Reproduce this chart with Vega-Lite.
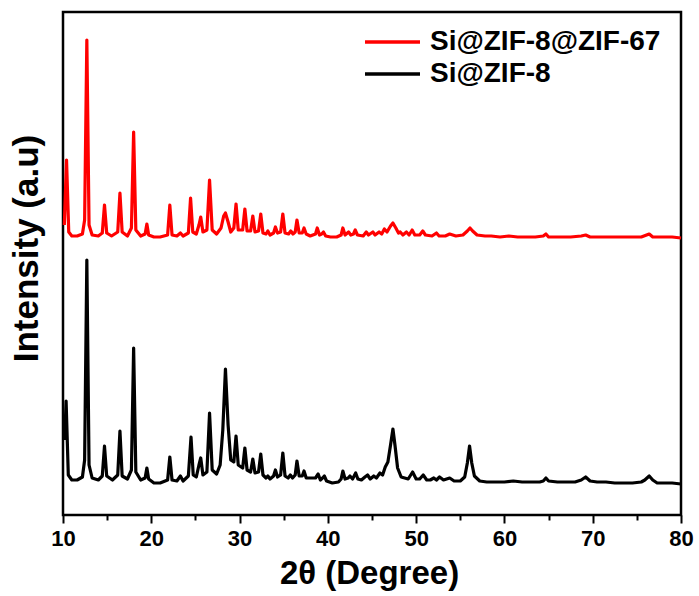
{
  "$schema": "https://vega.github.io/schema/vega-lite/v6.json",
  "width": 618,
  "height": 503,
  "autosize": "none",
  "padding": {"left": 63, "top": 12, "right": 18, "bottom": 81},
  "background": "white",
  "config": {
    "font": "Liberation Sans",
    "view": {"stroke": "black", "strokeWidth": 2.5},
    "axis": {"grid": false, "domain": false, "tickColor": "black", "labelColor": "black", "titleColor": "black", "labelFont": "Liberation Sans", "titleFont": "Liberation Sans", "labelFontWeight": "bold", "titleFontWeight": "bold"}
  },
  "layer": [
    {
      "data": {"values": [
{"x":10.15,"y":290},{"x":10.4,"y":355},{"x":10.65,"y":283},{"x":11.0,"y":279},{"x":11.6,"y":279},{"x":12.2,"y":281},{"x":12.45,"y":295},{"x":12.7,"y":475},{"x":12.95,"y":290},{"x":13.3,"y":280},{"x":14.0,"y":279},{"x":14.45,"y":282},{"x":14.7,"y":310},{"x":14.95,"y":282},{"x":15.5,"y":279},{"x":16.2,"y":283},{"x":16.45,"y":322},{"x":16.7,"y":283},{"x":17.3,"y":279},{"x":17.75,"y":287},{"x":18.0,"y":383},{"x":18.25,"y":285},{"x":18.8,"y":279},{"x":19.3,"y":281},{"x":19.5,"y":291},{"x":19.7,"y":280},{"x":20.3,"y":278},{"x":21.0,"y":278},{"x":21.85,"y":280},{"x":22.1,"y":310},{"x":22.35,"y":280},{"x":22.9,"y":279},{"x":23.3,"y":282},{"x":23.6,"y":279},{"x":24.2,"y":282},{"x":24.45,"y":317},{"x":24.7,"y":283},{"x":25.1,"y":281},{"x":25.4,"y":290},{"x":25.6,"y":298},{"x":25.85,"y":283},{"x":26.3,"y":285},{"x":26.6,"y":335},{"x":26.9,"y":285},{"x":27.4,"y":281},{"x":27.9,"y":287},{"x":28.2,"y":299},{"x":28.4,"y":302},{"x":28.7,"y":293},{"x":29.0,"y":283},{"x":29.35,"y":287},{"x":29.6,"y":311},{"x":29.85,"y":285},{"x":30.35,"y":285},{"x":30.6,"y":306},{"x":30.85,"y":284},{"x":31.25,"y":284},{"x":31.5,"y":299},{"x":31.75,"y":283},{"x":32.15,"y":284},{"x":32.4,"y":301},{"x":32.65,"y":282},{"x":33.0,"y":281},{"x":33.2,"y":284},{"x":33.45,"y":280},{"x":33.85,"y":282},{"x":34.06,"y":288},{"x":34.3,"y":282},{"x":34.65,"y":283},{"x":34.9,"y":301},{"x":35.15,"y":282},{"x":35.55,"y":281},{"x":35.8,"y":284},{"x":36.05,"y":281},{"x":36.3,"y":283},{"x":36.5,"y":295},{"x":36.75,"y":282},{"x":37.1,"y":282},{"x":37.3,"y":287},{"x":37.55,"y":281},{"x":38.0,"y":279},{"x":38.6,"y":281},{"x":38.8,"y":287},{"x":39.05,"y":280},{"x":39.3,"y":281},{"x":39.5,"y":283},{"x":39.75,"y":279},{"x":40.3,"y":278},{"x":41.0,"y":278},{"x":41.5,"y":280},{"x":41.7,"y":287},{"x":41.95,"y":280},{"x":42.35,"y":283},{"x":42.6,"y":280},{"x":42.9,"y":281},{"x":43.1,"y":285},{"x":43.35,"y":280},{"x":44.0,"y":279},{"x":44.35,"y":283},{"x":44.6,"y":280},{"x":45.1,"y":283},{"x":45.35,"y":280},{"x":45.8,"y":283},{"x":46.1,"y":281},{"x":46.4,"y":286},{"x":46.7,"y":283},{"x":47.1,"y":289},{"x":47.37,"y":292},{"x":47.7,"y":287},{"x":48.0,"y":282},{"x":48.2,"y":283},{"x":48.5,"y":280},{"x":48.9,"y":283},{"x":49.2,"y":280},{"x":49.55,"y":285},{"x":49.85,"y":280},{"x":50.4,"y":280},{"x":50.75,"y":284},{"x":51.05,"y":280},{"x":51.8,"y":279},{"x":52.3,"y":282},{"x":52.6,"y":279},{"x":53.3,"y":279},{"x":53.8,"y":281},{"x":54.5,"y":279},{"x":55.3,"y":280},{"x":55.8,"y":284},{"x":56.1,"y":287},{"x":56.4,"y":284},{"x":56.9,"y":280},{"x":57.8,"y":279},{"x":58.5,"y":279},{"x":59.5,"y":278},{"x":60.5,"y":279},{"x":61.5,"y":278},{"x":62.5,"y":278},{"x":63.5,"y":278},{"x":64.4,"y":279},{"x":64.7,"y":281},{"x":65.0,"y":278},{"x":66.0,"y":278},{"x":67.5,"y":278},{"x":68.7,"y":279},{"x":69.2,"y":280},{"x":69.7,"y":278},{"x":71.0,"y":278},{"x":72.5,"y":278},{"x":74.0,"y":278},{"x":75.5,"y":278},{"x":76.1,"y":280},{"x":76.4,"y":281},{"x":76.8,"y":278},{"x":78.0,"y":278},{"x":79.0,"y":278},{"x":80.0,"y":277}
      ]},
      "mark": {"type": "line", "strokeWidth": 3.2, "strokeJoin": "round"},
      "encoding": {
        "x": {"field": "x", "type": "quantitative", "scale": {"domain": [10, 80], "nice": false},
          "axis": {"orient": "bottom", "values": [10,20,30,40,50,60,70,80], "tickSize": 8, "tickWidth": 2, "labelFontSize": 22, "labelPadding": 5, "labelFlush": false,
            "title": "2θ (Degree)", "titleFontSize": 33, "titleX": 306, "titleY": 68, "titleBaseline": "alphabetic", "titleAlign": "center"}},
        "y": {"field": "y", "type": "quantitative", "scale": {"domain": [0, 503], "nice": false},
          "axis": {"labels": false, "ticks": false, "title": "Intensity (a.u)", "titleFontSize": 35, "titleAngle": -90, "titleX": -26, "titleY": 236, "titleBaseline": "alphabetic", "titleAlign": "center"}},
        "color": {"datum": "Si@ZIF-8@ZIF-67", "type": "nominal",
          "scale": {"domain": ["Si@ZIF-8@ZIF-67", "Si@ZIF-8"], "range": ["#ff0000", "#000000"]},
          "legend": {"title": null, "orient": "none", "legendX": 300, "legendY": 15, "symbolType": "stroke", "symbolSize": 3025, "symbolStrokeWidth": 3.5, "clipHeight": 30, "labelFontSize": 28, "labelFontWeight": "bold", "labelFont": "Liberation Sans", "labelColor": "black", "labelOffset": 8, "labelLimit": 400, "rowPadding": 2, "padding": 0}}
      }
    },
    {
      "data": {"values": [
{"x":10.2,"y":75},{"x":10.35,"y":114},{"x":10.6,"y":40},{"x":11.0,"y":35},{"x":11.6,"y":35},{"x":12.2,"y":38},{"x":12.45,"y":55},{"x":12.7,"y":255},{"x":12.95,"y":50},{"x":13.3,"y":37},{"x":14.0,"y":35},{"x":14.45,"y":39},{"x":14.7,"y":69},{"x":14.95,"y":39},{"x":15.6,"y":35},{"x":16.2,"y":40},{"x":16.45,"y":84},{"x":16.7,"y":39},{"x":17.3,"y":36},{"x":17.75,"y":45},{"x":18.0,"y":167},{"x":18.25,"y":43},{"x":18.8,"y":35},{"x":19.3,"y":37},{"x":19.5,"y":47},{"x":19.7,"y":36},{"x":20.3,"y":32},{"x":21.0,"y":32},{"x":21.85,"y":35},{"x":22.1,"y":58},{"x":22.35,"y":35},{"x":22.9,"y":34},{"x":23.3,"y":39},{"x":23.6,"y":34},{"x":24.2,"y":39},{"x":24.5,"y":78},{"x":24.75,"y":40},{"x":25.1,"y":38},{"x":25.4,"y":50},{"x":25.6,"y":57},{"x":25.85,"y":40},{"x":26.3,"y":43},{"x":26.6,"y":102},{"x":26.9,"y":45},{"x":27.4,"y":41},{"x":27.8,"y":50},{"x":28.1,"y":85},{"x":28.4,"y":146},{"x":28.7,"y":90},{"x":29.0,"y":55},{"x":29.35,"y":53},{"x":29.6,"y":79},{"x":29.85,"y":50},{"x":30.35,"y":47},{"x":30.6,"y":67},{"x":30.85,"y":45},{"x":31.25,"y":43},{"x":31.5,"y":56},{"x":31.75,"y":42},{"x":32.15,"y":43},{"x":32.4,"y":61},{"x":32.65,"y":40},{"x":33.0,"y":37},{"x":33.2,"y":39},{"x":33.45,"y":36},{"x":33.85,"y":39},{"x":34.06,"y":45},{"x":34.3,"y":38},{"x":34.65,"y":40},{"x":34.9,"y":62},{"x":35.15,"y":39},{"x":35.5,"y":37},{"x":35.75,"y":40},{"x":36.0,"y":37},{"x":36.3,"y":40},{"x":36.5,"y":54},{"x":36.75,"y":39},{"x":37.1,"y":39},{"x":37.3,"y":44},{"x":37.55,"y":37},{"x":38.1,"y":37},{"x":38.6,"y":37},{"x":38.9,"y":41},{"x":39.15,"y":35},{"x":39.4,"y":37},{"x":39.6,"y":39},{"x":39.85,"y":34},{"x":40.5,"y":32},{"x":41.2,"y":33},{"x":41.5,"y":36},{"x":41.7,"y":44},{"x":41.95,"y":36},{"x":42.3,"y":37},{"x":42.5,"y":39},{"x":42.8,"y":36},{"x":43.15,"y":42},{"x":43.4,"y":36},{"x":43.8,"y":35},{"x":44.2,"y":38},{"x":44.5,"y":40},{"x":44.8,"y":36},{"x":45.2,"y":39},{"x":45.5,"y":37},{"x":45.9,"y":42},{"x":46.2,"y":40},{"x":46.5,"y":48},{"x":46.8,"y":53},{"x":47.1,"y":70},{"x":47.37,"y":86},{"x":47.6,"y":70},{"x":47.9,"y":47},{"x":48.3,"y":38},{"x":48.7,"y":37},{"x":49.1,"y":36},{"x":49.6,"y":43},{"x":50.0,"y":36},{"x":50.4,"y":36},{"x":50.8,"y":40},{"x":51.2,"y":35},{"x":51.6,"y":35},{"x":52.0,"y":37},{"x":52.3,"y":35},{"x":52.65,"y":38},{"x":53.1,"y":35},{"x":53.8,"y":37},{"x":54.3,"y":34},{"x":55.0,"y":34},{"x":55.5,"y":38},{"x":55.8,"y":52},{"x":56.05,"y":69},{"x":56.3,"y":52},{"x":56.6,"y":39},{"x":57.2,"y":34},{"x":58.0,"y":33},{"x":59.0,"y":33},{"x":60.0,"y":33},{"x":61.0,"y":34},{"x":62.0,"y":33},{"x":63.0,"y":33},{"x":64.0,"y":33},{"x":64.4,"y":34},{"x":64.7,"y":37},{"x":65.0,"y":34},{"x":66.0,"y":33},{"x":67.0,"y":33},{"x":68.0,"y":33},{"x":68.7,"y":35},{"x":69.2,"y":38},{"x":69.7,"y":34},{"x":70.5,"y":33},{"x":71.5,"y":33},{"x":72.5,"y":32},{"x":73.5,"y":32},{"x":74.5,"y":32},{"x":75.5,"y":33},{"x":75.9,"y":35},{"x":76.4,"y":39},{"x":76.8,"y":35},{"x":77.3,"y":32},{"x":78.0,"y":32},{"x":79.0,"y":32},{"x":80.0,"y":31}
      ]},
      "mark": {"type": "line", "strokeWidth": 3.2, "strokeJoin": "round"},
      "encoding": {
        "x": {"field": "x", "type": "quantitative", "scale": {"domain": [10, 80], "nice": false},
          "axis": {"orient": "bottom", "values": [15,25,35,45,55,65,75], "tickSize": 5, "tickWidth": 2, "labels": false, "title": null}},
        "y": {"field": "y", "type": "quantitative", "scale": {"domain": [0, 503], "nice": false},
          "axis": {"labels": false, "ticks": false, "title": "Intensity (a.u)", "titleFontSize": 35, "titleAngle": -90, "titleX": -26, "titleY": 236, "titleBaseline": "alphabetic", "titleAlign": "center"}},
        "color": {"datum": "Si@ZIF-8", "type": "nominal"}
      }
    }
  ],
  "resolve": {"axis": {"x": "independent"}}
}
